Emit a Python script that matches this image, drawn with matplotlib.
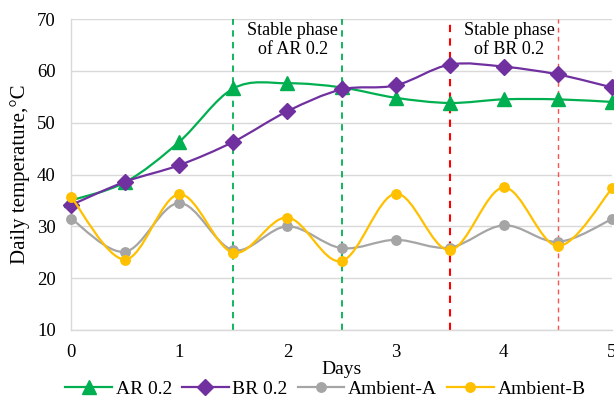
import matplotlib
matplotlib.use("Agg")
import matplotlib.pyplot as plt
from matplotlib.path import Path
from matplotlib.patches import PathPatch
from matplotlib.lines import Line2D
import numpy as np

plt.rcParams['font.family'] = ['Liberation Serif', 'DejaVu Serif']

days = [0, 0.5, 1, 1.5, 2, 2.5, 3, 3.5, 4, 4.5, 5]
ar02 = [35.0, 38.5, 46.3, 56.6, 57.6, 56.8, 54.8, 53.8, 54.5, 54.5, 54.0]
br02 = [34.1, 38.6, 41.8, 46.3, 52.2, 56.4, 57.2, 61.2, 60.8, 59.3, 56.8]
amb_a = [31.5, 25.1, 34.5, 25.4, 30.0, 25.8, 27.4, 25.9, 30.2, 27.0, 31.4]
amb_b = [35.7, 23.6, 36.2, 24.9, 31.7, 23.3, 36.3, 25.4, 37.5, 26.2, 37.3]

series_names = ["AR 0.2", "BR 0.2", "Ambient-A", "Ambient-B"]
series_vals = [ar02, br02, amb_a, amb_b]
colors = ["#00B050", "#7030A0", "#A5A5A5", "#FFC000"]
markers = ["^", "D", "o", "o"]
msizes = [10.5, 8, 6.8, 6.8]

ar_phase = [1.5, 2.5]
br_phase = [3.5, 4.5]

fig = plt.figure(figsize=(6.14, 4.07), dpi=100)
ax = fig.add_axes([71/614, 1-330/407, 541/614, 311/407])


def smooth_path(xs, ys):
    pts = np.column_stack([xs, ys]).astype(float)
    n = len(pts)
    verts = [pts[0]]
    codes = [Path.MOVETO]
    for i in range(n - 1):
        p0 = pts[i - 1] if i > 0 else pts[i]
        p1 = pts[i]
        p2 = pts[i + 1]
        p3 = pts[i + 2] if i + 2 < n else pts[i + 1]
        c1 = p1 + (p2 - p0) / 6.0
        c2 = p2 - (p3 - p1) / 6.0
        verts += [c1, c2, p2]
        codes += [Path.CURVE4] * 3
    return Path(verts, codes)


handles = []
order = [2, 3, 0, 1]
for i in order:
    vals = series_vals[i]
    patch = PathPatch(smooth_path(days, vals), facecolor='none',
                      edgecolor=colors[i], lw=1.6, zorder=3 + i, clip_on=False)
    ax.add_patch(patch)
    ax.plot(days, vals, linestyle='none', marker=markers[i], ms=msizes[i],
            color=colors[i], zorder=3.5 + i, clip_on=False)

for i in range(4):
    handles.append(Line2D([], [], color=colors[i], lw=1.6, marker=markers[i],
                          ms=msizes[i]))

for xv in ar_phase:
    ax.axvline(xv, color="#00B050", ls=(0, (3.5, 3)), lw=1.3, zorder=2)
ax.axvline(br_phase[0], color="#FF0000", ls=(0, (3.5, 3)), lw=1.5, zorder=2)
ax.axvline(br_phase[1], color="#FF5050", ls=(0, (3.5, 3)), lw=1.0, zorder=2)

ax.text(2.05, 65.9, "Stable phase\nof AR 0.2", ha='center', va='center',
        fontsize=13, linespacing=1.15, zorder=10)
ax.text(4.05, 65.9, "Stable phase\nof BR 0.2", ha='center', va='center',
        fontsize=13, linespacing=1.15, zorder=10)

ax.set_xlim(0, 5)
ax.set_ylim(10, 70)
ax.set_xticks([0, 1, 2, 3, 4, 5])
ax.set_yticks([10, 20, 30, 40, 50, 60, 70])
ax.grid(axis='y', color="#D9D9D9", lw=1.0, zorder=0)
ax.set_axisbelow(True)
for s in ['top', 'right']:
    ax.spines[s].set_visible(False)
for s in ['left', 'bottom']:
    ax.spines[s].set_color("#D9D9D9")
    ax.spines[s].set_linewidth(1.0)
ax.tick_params(axis='both', length=0, labelsize=13.5)
ax.tick_params(axis='y', pad=11)
ax.tick_params(axis='x', pad=10)

ax.set_xlabel("Days", fontsize=14, labelpad=0)
ax.set_ylabel("Daily temperature,\u00b0C", fontsize=15, labelpad=5)

fig.legend(handles, series_names, loc='center', bbox_to_anchor=(0.53, 1-389/407),
           ncol=4, frameon=False, fontsize=14, handlelength=2.4,
           columnspacing=0.5, handletextpad=0.2, borderaxespad=0)

fig.savefig("out.png", dpi=100)
